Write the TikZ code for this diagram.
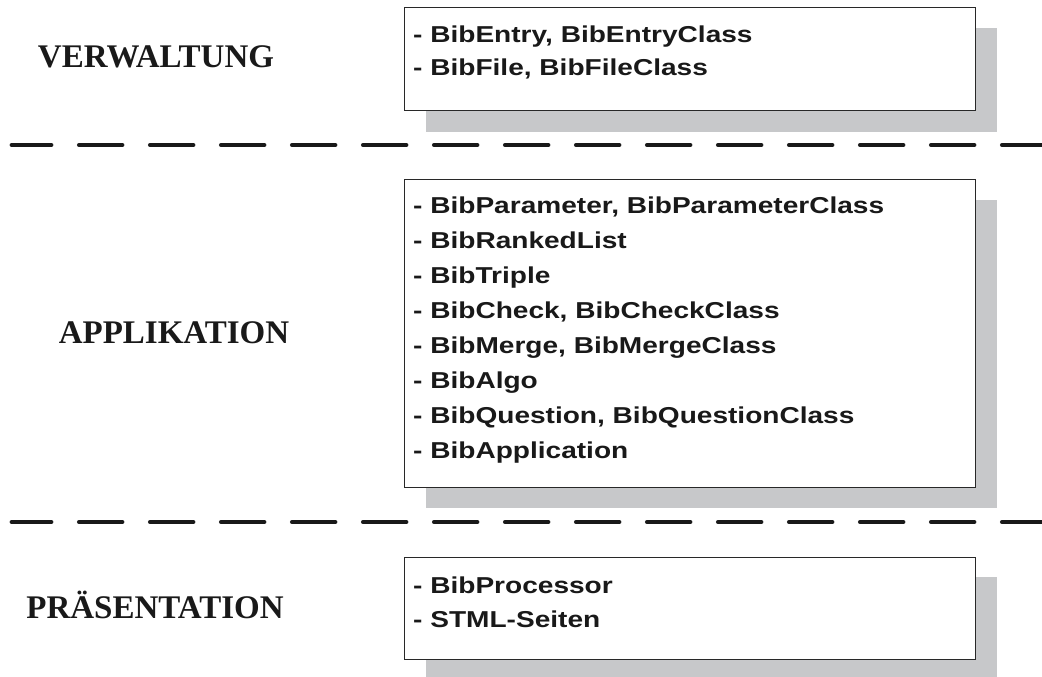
\documentclass[tikz,border=0pt]{standalone}
\usepackage{fontspec}
\newfontfamily\boxfont[FakeStretch=1.22]{Liberation Sans Bold}
\newfontfamily\labfont{Liberation Serif Bold}
\definecolor{shadowgray}{RGB}{199,200,202}
\definecolor{linegray}{RGB}{40,40,40}
\tikzset{
  shadowbox/.style={fill=shadowgray, draw=none},
  classbox/.style={draw=linegray, line width=1pt, fill=white, anchor=north west, inner sep=0pt},
  classtext/.style={anchor=base west, inner sep=0pt, font=\boxfont\fontsize{23}{34}\selectfont, text=black!90},
  layerlabel/.style={anchor=base, inner sep=0pt, font=\labfont\fontsize{33}{33}\selectfont, text=black!90},
  separator/.style={line width=4.5pt, line cap=round, dash pattern=on 43pt off 28pt, dash phase=3.6pt, draw=black!90}
}
\begin{document}
\begin{tikzpicture}[x=1pt,y=-1pt]
\useasboundingbox (0,0) rectangle (1042,677);
% shadows
\fill[shadowgray] (426,28) rectangle (997,132);
\fill[shadowgray] (426,200) rectangle (997,508);
\fill[shadowgray] (426,577) rectangle (997,677);
% boxes
\node[classbox, minimum width=571pt, minimum height=102.7pt] (box1) at (404,7.3) {};
\node[classbox, minimum width=571pt, minimum height=308pt] (box2) at (404,179) {};
\node[classbox, minimum width=571pt, minimum height=102pt] (box3) at (404,557) {};
% texts
\node[classtext] (t1) at (413,42.7) {\parbox[t]{540pt}{\fontsize{23}{33.3}\selectfont - BibEntry, BibEntryClass\\- BibFile, BibFileClass}};
\node[classtext] (t2) at (413,213) {\parbox[t]{540pt}{\fontsize{23}{35}\selectfont - BibParameter, BibParameterClass\\- BibRankedList\\- BibTriple\\- BibCheck, BibCheckClass\\- BibMerge, BibMergeClass\\- BibAlgo\\- BibQuestion, BibQuestionClass\\- BibApplication}};
\node[classtext] (t3) at (413,593) {\parbox[t]{540pt}{\fontsize{23}{34}\selectfont - BibProcessor\\- STML-Seiten}};
% labels
\node[layerlabel] (l1) at (156,68) {VERWALTUNG};
\node[layerlabel] (l2) at (174,343) {APPLIKATION};
\node[layerlabel] (l3) at (155,618) {PRÄSENTATION};
% separators
\coordinate (s1a) at (11.8,145);
\coordinate (s1b) at (1042,145);
\coordinate (s2a) at (11.8,522);
\coordinate (s2b) at (1042,522);
\draw[separator] (s1a) -- (s1b);
\draw[separator] (s2a) -- (s2b);
\end{tikzpicture}
\end{document}
